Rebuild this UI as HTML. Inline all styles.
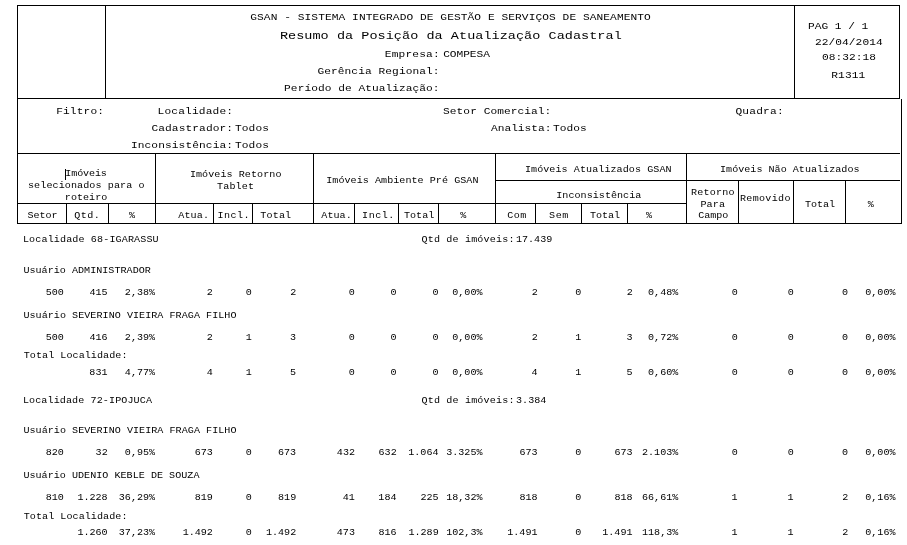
<!DOCTYPE html>
<html lang="pt-BR"><head><meta charset="utf-8"><title>Resumo da Posição da Atualização Cadastral</title>
<style>
html,body{margin:0;padding:0;background:#fff}
body{width:907px;height:545px;position:relative;overflow:hidden;font-family:"Liberation Mono","DejaVu Sans Mono",monospace;color:#000}
.t{position:absolute;white-space:pre;display:block;transform:scaleY(0.87);text-shadow:none}
.l{position:absolute;background:#000;display:block}
</style></head><body>
<div id="linhas">
<i class="l" style="left:17px;top:5px;width:883px;height:1px"></i>
<i class="l" style="left:17px;top:98px;width:883px;height:1px"></i>
<i class="l" style="left:17px;top:153px;width:883px;height:1px"></i>
<i class="l" style="left:495px;top:180px;width:405px;height:1px"></i>
<i class="l" style="left:17px;top:203px;width:670px;height:1px"></i>
<i class="l" style="left:17px;top:223px;width:885px;height:1px"></i>
<i class="l" style="left:17px;top:5px;width:1px;height:219px"></i>
<i class="l" style="left:899px;top:5px;width:1px;height:94px"></i>
<i class="l" style="left:901px;top:99px;width:1px;height:125px"></i>
<i class="l" style="left:105px;top:5px;width:1px;height:94px"></i>
<i class="l" style="left:794px;top:5px;width:1px;height:94px"></i>
<i class="l" style="left:155px;top:153px;width:1px;height:71px"></i>
<i class="l" style="left:313px;top:153px;width:1px;height:71px"></i>
<i class="l" style="left:495px;top:153px;width:1px;height:71px"></i>
<i class="l" style="left:686px;top:153px;width:1px;height:71px"></i>
<i class="l" style="left:66px;top:203px;width:1px;height:21px"></i>
<i class="l" style="left:108px;top:203px;width:1px;height:21px"></i>
<i class="l" style="left:213px;top:203px;width:1px;height:21px"></i>
<i class="l" style="left:252px;top:203px;width:1px;height:21px"></i>
<i class="l" style="left:354px;top:203px;width:1px;height:21px"></i>
<i class="l" style="left:398px;top:203px;width:1px;height:21px"></i>
<i class="l" style="left:438px;top:203px;width:1px;height:21px"></i>
<i class="l" style="left:535px;top:203px;width:1px;height:21px"></i>
<i class="l" style="left:581px;top:203px;width:1px;height:21px"></i>
<i class="l" style="left:627px;top:203px;width:1px;height:21px"></i>
<i class="l" style="left:738px;top:180px;width:1px;height:44px"></i>
<i class="l" style="left:793px;top:180px;width:1px;height:44px"></i>
<i class="l" style="left:845px;top:180px;width:1px;height:44px"></i>
<i class="l" style="left:65px;top:169px;width:1px;height:11px"></i>
</div>
<header id="cabecalho">
<span class="t" style="left:250.28px;top:10.00px;font-size:11.2px;line-height:14px;transform-origin:0 10.0px;letter-spacing:0.076px;">GSAN - SISTEMA INTEGRADO DE GESTÃO E SERVIÇOS DE SANEAMENTO</span>
<span class="t" style="left:279.93px;top:28.50px;font-size:13.5px;line-height:14px;transform-origin:0 10.5px;letter-spacing:0.038px;">Resumo da Posição da Atualização Cadastral</span>
<span class="t" style="left:384.86px;top:47.00px;font-size:11.2px;line-height:14px;transform-origin:0 10.0px;letter-spacing:0.156px;">Empresa:</span>
<span class="t" style="left:443.13px;top:47.00px;font-size:11.2px;line-height:14px;transform-origin:0 10.0px;letter-spacing:-0.029px;">COMPESA</span>
<span class="t" style="left:317.38px;top:64.00px;font-size:11.2px;line-height:14px;transform-origin:0 10.0px;letter-spacing:0.080px;">Gerência Regional:</span>
<span class="t" style="left:284.11px;top:81.00px;font-size:11.2px;line-height:14px;transform-origin:0 10.0px;letter-spacing:0.047px;">Período de Atualização:</span>
<span class="t" style="left:808.11px;top:19.00px;font-size:11.2px;line-height:14px;transform-origin:0 10.0px;letter-spacing:-0.033px;">PAG 1 / 1</span>
<span class="t" style="left:814.91px;top:35.00px;font-size:11.2px;line-height:14px;transform-origin:0 10.0px;letter-spacing:0.072px;">22/04/2014</span>
<span class="t" style="left:822.12px;top:50.00px;font-size:11.2px;line-height:14px;transform-origin:0 10.0px;letter-spacing:0.035px;">08:32:18</span>
<span class="t" style="left:831.21px;top:68.00px;font-size:11.2px;line-height:14px;transform-origin:0 10.0px;letter-spacing:0.130px;">R1311</span>
</header>
<section id="filtro">
<span class="t" style="left:56.14px;top:104.00px;font-size:11.2px;line-height:14px;transform-origin:0 10.0px;letter-spacing:0.156px;">Filtro:</span>
<span class="t" style="left:157.60px;top:104.00px;font-size:11.2px;line-height:14px;transform-origin:0 10.0px;letter-spacing:0.159px;">Localidade:</span>
<span class="t" style="left:151.38px;top:121.00px;font-size:11.2px;line-height:14px;transform-origin:0 10.0px;letter-spacing:0.099px;">Cadastrador:</span>
<span class="t" style="left:234.88px;top:121.00px;font-size:11.2px;line-height:14px;transform-origin:0 10.0px;letter-spacing:0.134px;">Todos</span>
<span class="t" style="left:130.90px;top:138.00px;font-size:11.2px;line-height:14px;transform-origin:0 10.0px;letter-spacing:0.101px;">Inconsistência:</span>
<span class="t" style="left:234.88px;top:138.00px;font-size:11.2px;line-height:14px;transform-origin:0 10.0px;letter-spacing:0.134px;">Todos</span>
<span class="t" style="left:443.07px;top:104.00px;font-size:11.2px;line-height:14px;transform-origin:0 10.0px;letter-spacing:0.055px;">Setor Comercial:</span>
<span class="t" style="left:491.10px;top:121.00px;font-size:11.2px;line-height:14px;transform-origin:0 10.0px;letter-spacing:-0.021px;">Analista:</span>
<span class="t" style="left:552.98px;top:121.00px;font-size:11.2px;line-height:14px;transform-origin:0 10.0px;letter-spacing:0.034px;">Todos</span>
<span class="t" style="left:735.44px;top:104.00px;font-size:11.2px;line-height:14px;transform-origin:0 10.0px;letter-spacing:0.206px;">Quadra:</span>
</section>
<section id="colunas">
<span class="t" style="left:65.31px;top:166.50px;font-size:10.08px;line-height:14px;transform-origin:0 9.5px;letter-spacing:-0.119px;">Imóveis</span>
<span class="t" style="left:27.98px;top:178.50px;font-size:10.08px;line-height:14px;transform-origin:0 9.5px;letter-spacing:0.091px;">selecionados para o</span>
<span class="t" style="left:64.81px;top:190.50px;font-size:10.08px;line-height:14px;transform-origin:0 9.5px;letter-spacing:0.033px;">roteiro</span>
<span class="t" style="left:189.91px;top:167.50px;font-size:10.08px;line-height:14px;transform-origin:0 9.5px;letter-spacing:0.058px;">Imóveis Retorno</span>
<span class="t" style="left:217.03px;top:179.50px;font-size:10.08px;line-height:14px;transform-origin:0 9.5px;letter-spacing:0.145px;">Tablet</span>
<span class="t" style="left:326.21px;top:173.50px;font-size:10.08px;line-height:14px;transform-origin:0 9.5px;letter-spacing:0.045px;">Imóveis Ambiente Pré GSAN</span>
<span class="t" style="left:524.91px;top:162.50px;font-size:10.08px;line-height:14px;transform-origin:0 9.5px;letter-spacing:0.066px;">Imóveis Atualizados GSAN</span>
<span class="t" style="left:556.31px;top:188.50px;font-size:10.08px;line-height:14px;transform-origin:0 9.5px;letter-spacing:0.027px;">Inconsistência</span>
<span class="t" style="left:720.01px;top:162.50px;font-size:10.08px;line-height:14px;transform-origin:0 9.5px;letter-spacing:0.018px;">Imóveis Não Atualizados</span>
<span class="t" style="left:691.10px;top:185.50px;font-size:10.08px;line-height:14px;transform-origin:0 9.5px;letter-spacing:0.201px;">Retorno</span>
<span class="t" style="left:700.40px;top:197.50px;font-size:10.08px;line-height:14px;transform-origin:0 9.5px;letter-spacing:0.147px;">Para</span>
<span class="t" style="left:698.34px;top:208.50px;font-size:10.08px;line-height:14px;transform-origin:0 9.5px;letter-spacing:-0.085px;">Campo</span>
<span class="t" style="left:740.00px;top:191.50px;font-size:10.08px;line-height:14px;transform-origin:0 9.5px;letter-spacing:0.294px;">Removido</span>
<span class="t" style="left:805.03px;top:197.50px;font-size:10.08px;line-height:14px;transform-origin:0 9.5px;letter-spacing:-0.029px;">Total</span>
<span class="t" style="left:867.77px;top:197.50px;font-size:10.08px;line-height:14px;transform-origin:0 9.5px;">%</span>
<span class="t" style="left:27.51px;top:208.50px;font-size:10.08px;line-height:14px;transform-origin:0 9.5px;letter-spacing:-0.063px;">Setor</span>
<span class="t" style="left:74.30px;top:208.50px;font-size:10.08px;line-height:14px;transform-origin:0 9.5px;letter-spacing:0.419px;">Qtd.</span>
<span class="t" style="left:129.07px;top:208.50px;font-size:10.08px;line-height:14px;transform-origin:0 9.5px;">%</span>
<span class="t" style="left:178.20px;top:208.50px;font-size:10.08px;line-height:14px;transform-origin:0 9.5px;letter-spacing:0.152px;">Atua.</span>
<span class="t" style="left:217.51px;top:208.50px;font-size:10.08px;line-height:14px;transform-origin:0 9.5px;letter-spacing:0.475px;">Incl.</span>
<span class="t" style="left:260.33px;top:208.50px;font-size:10.08px;line-height:14px;transform-origin:0 9.5px;letter-spacing:0.146px;">Total</span>
<span class="t" style="left:321.30px;top:208.50px;font-size:10.08px;line-height:14px;transform-origin:0 9.5px;letter-spacing:0.052px;">Atua.</span>
<span class="t" style="left:362.11px;top:208.50px;font-size:10.08px;line-height:14px;transform-origin:0 9.5px;letter-spacing:0.500px;">Incl.</span>
<span class="t" style="left:404.03px;top:208.50px;font-size:10.08px;line-height:14px;transform-origin:0 9.5px;letter-spacing:-0.004px;">Total</span>
<span class="t" style="left:460.17px;top:208.50px;font-size:10.08px;line-height:14px;transform-origin:0 9.5px;">%</span>
<span class="t" style="left:507.24px;top:208.50px;font-size:10.08px;line-height:14px;transform-origin:0 9.5px;letter-spacing:0.413px;">Com</span>
<span class="t" style="left:549.11px;top:208.50px;font-size:10.08px;line-height:14px;transform-origin:0 9.5px;letter-spacing:0.579px;">Sem</span>
<span class="t" style="left:590.03px;top:208.50px;font-size:10.08px;line-height:14px;transform-origin:0 9.5px;letter-spacing:-0.054px;">Total</span>
<span class="t" style="left:645.97px;top:208.50px;font-size:10.08px;line-height:14px;transform-origin:0 9.5px;">%</span>
</section>
<main id="dados">
<span class="t" style="left:22.93px;top:232.50px;font-size:10.08px;line-height:14px;transform-origin:0 9.5px;letter-spacing:0.128px;">Localidade 68-IGARASSU</span>
<span class="t" style="left:421.50px;top:232.50px;font-size:10.08px;line-height:14px;transform-origin:0 9.5px;letter-spacing:0.158px;">Qtd de imóveis:</span>
<span class="t" style="left:515.97px;top:232.50px;font-size:10.08px;line-height:14px;transform-origin:0 9.5px;">17.439</span>
<span class="t" style="left:23.40px;top:263.50px;font-size:10.08px;line-height:14px;transform-origin:0 9.5px;letter-spacing:0.021px;">Usuário ADMINISTRADOR</span>
<span class="t" style="left:45.77px;top:285.50px;font-size:10.08px;line-height:14px;transform-origin:0 9.5px;">500</span>
<span class="t" style="left:89.49px;top:285.50px;font-size:10.08px;line-height:14px;transform-origin:0 9.5px;">415</span>
<span class="t" style="left:124.85px;top:285.50px;font-size:10.08px;line-height:14px;transform-origin:0 9.5px;">2,38%</span>
<span class="t" style="left:206.86px;top:285.50px;font-size:10.08px;line-height:14px;transform-origin:0 9.5px;">2</span>
<span class="t" style="left:245.87px;top:285.50px;font-size:10.08px;line-height:14px;transform-origin:0 9.5px;">0</span>
<span class="t" style="left:290.16px;top:285.50px;font-size:10.08px;line-height:14px;transform-origin:0 9.5px;">2</span>
<span class="t" style="left:348.87px;top:285.50px;font-size:10.08px;line-height:14px;transform-origin:0 9.5px;">0</span>
<span class="t" style="left:390.57px;top:285.50px;font-size:10.08px;line-height:14px;transform-origin:0 9.5px;">0</span>
<span class="t" style="left:432.57px;top:285.50px;font-size:10.08px;line-height:14px;transform-origin:0 9.5px;">0</span>
<span class="t" style="left:452.25px;top:285.50px;font-size:10.08px;line-height:14px;transform-origin:0 9.5px;">0,00%</span>
<span class="t" style="left:531.66px;top:285.50px;font-size:10.08px;line-height:14px;transform-origin:0 9.5px;">2</span>
<span class="t" style="left:575.37px;top:285.50px;font-size:10.08px;line-height:14px;transform-origin:0 9.5px;">0</span>
<span class="t" style="left:626.66px;top:285.50px;font-size:10.08px;line-height:14px;transform-origin:0 9.5px;">2</span>
<span class="t" style="left:648.05px;top:285.50px;font-size:10.08px;line-height:14px;transform-origin:0 9.5px;">0,48%</span>
<span class="t" style="left:731.67px;top:285.50px;font-size:10.08px;line-height:14px;transform-origin:0 9.5px;">0</span>
<span class="t" style="left:787.67px;top:285.50px;font-size:10.08px;line-height:14px;transform-origin:0 9.5px;">0</span>
<span class="t" style="left:842.07px;top:285.50px;font-size:10.08px;line-height:14px;transform-origin:0 9.5px;">0</span>
<span class="t" style="left:865.25px;top:285.50px;font-size:10.08px;line-height:14px;transform-origin:0 9.5px;">0,00%</span>
<span class="t" style="left:23.40px;top:308.50px;font-size:10.08px;line-height:14px;transform-origin:0 9.5px;letter-spacing:0.041px;">Usuário SEVERINO VIEIRA FRAGA FILHO</span>
<span class="t" style="left:45.77px;top:330.50px;font-size:10.08px;line-height:14px;transform-origin:0 9.5px;">500</span>
<span class="t" style="left:89.51px;top:330.50px;font-size:10.08px;line-height:14px;transform-origin:0 9.5px;">416</span>
<span class="t" style="left:124.85px;top:330.50px;font-size:10.08px;line-height:14px;transform-origin:0 9.5px;">2,39%</span>
<span class="t" style="left:206.86px;top:330.50px;font-size:10.08px;line-height:14px;transform-origin:0 9.5px;">2</span>
<span class="t" style="left:245.74px;top:330.50px;font-size:10.08px;line-height:14px;transform-origin:0 9.5px;">1</span>
<span class="t" style="left:290.09px;top:330.50px;font-size:10.08px;line-height:14px;transform-origin:0 9.5px;">3</span>
<span class="t" style="left:348.87px;top:330.50px;font-size:10.08px;line-height:14px;transform-origin:0 9.5px;">0</span>
<span class="t" style="left:390.57px;top:330.50px;font-size:10.08px;line-height:14px;transform-origin:0 9.5px;">0</span>
<span class="t" style="left:432.57px;top:330.50px;font-size:10.08px;line-height:14px;transform-origin:0 9.5px;">0</span>
<span class="t" style="left:452.25px;top:330.50px;font-size:10.08px;line-height:14px;transform-origin:0 9.5px;">0,00%</span>
<span class="t" style="left:531.66px;top:330.50px;font-size:10.08px;line-height:14px;transform-origin:0 9.5px;">2</span>
<span class="t" style="left:575.24px;top:330.50px;font-size:10.08px;line-height:14px;transform-origin:0 9.5px;">1</span>
<span class="t" style="left:626.59px;top:330.50px;font-size:10.08px;line-height:14px;transform-origin:0 9.5px;">3</span>
<span class="t" style="left:648.05px;top:330.50px;font-size:10.08px;line-height:14px;transform-origin:0 9.5px;">0,72%</span>
<span class="t" style="left:731.67px;top:330.50px;font-size:10.08px;line-height:14px;transform-origin:0 9.5px;">0</span>
<span class="t" style="left:787.67px;top:330.50px;font-size:10.08px;line-height:14px;transform-origin:0 9.5px;">0</span>
<span class="t" style="left:842.07px;top:330.50px;font-size:10.08px;line-height:14px;transform-origin:0 9.5px;">0</span>
<span class="t" style="left:865.25px;top:330.50px;font-size:10.08px;line-height:14px;transform-origin:0 9.5px;">0,00%</span>
<span class="t" style="left:23.73px;top:348.50px;font-size:10.08px;line-height:14px;transform-origin:0 9.5px;letter-spacing:0.056px;">Total Localidade:</span>
<span class="t" style="left:89.34px;top:365.50px;font-size:10.08px;line-height:14px;transform-origin:0 9.5px;">831</span>
<span class="t" style="left:124.85px;top:365.50px;font-size:10.08px;line-height:14px;transform-origin:0 9.5px;">4,77%</span>
<span class="t" style="left:206.66px;top:365.50px;font-size:10.08px;line-height:14px;transform-origin:0 9.5px;">4</span>
<span class="t" style="left:245.74px;top:365.50px;font-size:10.08px;line-height:14px;transform-origin:0 9.5px;">1</span>
<span class="t" style="left:290.09px;top:365.50px;font-size:10.08px;line-height:14px;transform-origin:0 9.5px;">5</span>
<span class="t" style="left:348.87px;top:365.50px;font-size:10.08px;line-height:14px;transform-origin:0 9.5px;">0</span>
<span class="t" style="left:390.57px;top:365.50px;font-size:10.08px;line-height:14px;transform-origin:0 9.5px;">0</span>
<span class="t" style="left:432.57px;top:365.50px;font-size:10.08px;line-height:14px;transform-origin:0 9.5px;">0</span>
<span class="t" style="left:452.25px;top:365.50px;font-size:10.08px;line-height:14px;transform-origin:0 9.5px;">0,00%</span>
<span class="t" style="left:531.46px;top:365.50px;font-size:10.08px;line-height:14px;transform-origin:0 9.5px;">4</span>
<span class="t" style="left:575.24px;top:365.50px;font-size:10.08px;line-height:14px;transform-origin:0 9.5px;">1</span>
<span class="t" style="left:626.59px;top:365.50px;font-size:10.08px;line-height:14px;transform-origin:0 9.5px;">5</span>
<span class="t" style="left:648.05px;top:365.50px;font-size:10.08px;line-height:14px;transform-origin:0 9.5px;">0,60%</span>
<span class="t" style="left:731.67px;top:365.50px;font-size:10.08px;line-height:14px;transform-origin:0 9.5px;">0</span>
<span class="t" style="left:787.67px;top:365.50px;font-size:10.08px;line-height:14px;transform-origin:0 9.5px;">0</span>
<span class="t" style="left:842.07px;top:365.50px;font-size:10.08px;line-height:14px;transform-origin:0 9.5px;">0</span>
<span class="t" style="left:865.25px;top:365.50px;font-size:10.08px;line-height:14px;transform-origin:0 9.5px;">0,00%</span>
<span class="t" style="left:22.93px;top:393.50px;font-size:10.08px;line-height:14px;transform-origin:0 9.5px;letter-spacing:0.102px;">Localidade 72-IPOJUCA</span>
<span class="t" style="left:421.50px;top:393.50px;font-size:10.08px;line-height:14px;transform-origin:0 9.5px;letter-spacing:0.158px;">Qtd de imóveis:</span>
<span class="t" style="left:516.07px;top:393.50px;font-size:10.08px;line-height:14px;transform-origin:0 9.5px;">3.384</span>
<span class="t" style="left:23.40px;top:423.50px;font-size:10.08px;line-height:14px;transform-origin:0 9.5px;letter-spacing:0.041px;">Usuário SEVERINO VIEIRA FRAGA FILHO</span>
<span class="t" style="left:45.77px;top:445.50px;font-size:10.08px;line-height:14px;transform-origin:0 9.5px;">820</span>
<span class="t" style="left:95.62px;top:445.50px;font-size:10.08px;line-height:14px;transform-origin:0 9.5px;">32</span>
<span class="t" style="left:124.85px;top:445.50px;font-size:10.08px;line-height:14px;transform-origin:0 9.5px;">0,95%</span>
<span class="t" style="left:194.69px;top:445.50px;font-size:10.08px;line-height:14px;transform-origin:0 9.5px;">673</span>
<span class="t" style="left:245.87px;top:445.50px;font-size:10.08px;line-height:14px;transform-origin:0 9.5px;">0</span>
<span class="t" style="left:277.99px;top:445.50px;font-size:10.08px;line-height:14px;transform-origin:0 9.5px;">673</span>
<span class="t" style="left:336.87px;top:445.50px;font-size:10.08px;line-height:14px;transform-origin:0 9.5px;">432</span>
<span class="t" style="left:378.57px;top:445.50px;font-size:10.08px;line-height:14px;transform-origin:0 9.5px;">632</span>
<span class="t" style="left:408.27px;top:445.50px;font-size:10.08px;line-height:14px;transform-origin:0 9.5px;">1.064</span>
<span class="t" style="left:446.20px;top:445.50px;font-size:10.08px;line-height:14px;transform-origin:0 9.5px;">3.325%</span>
<span class="t" style="left:519.49px;top:445.50px;font-size:10.08px;line-height:14px;transform-origin:0 9.5px;">673</span>
<span class="t" style="left:575.37px;top:445.50px;font-size:10.08px;line-height:14px;transform-origin:0 9.5px;">0</span>
<span class="t" style="left:614.49px;top:445.50px;font-size:10.08px;line-height:14px;transform-origin:0 9.5px;">673</span>
<span class="t" style="left:642.00px;top:445.50px;font-size:10.08px;line-height:14px;transform-origin:0 9.5px;">2.103%</span>
<span class="t" style="left:731.67px;top:445.50px;font-size:10.08px;line-height:14px;transform-origin:0 9.5px;">0</span>
<span class="t" style="left:787.67px;top:445.50px;font-size:10.08px;line-height:14px;transform-origin:0 9.5px;">0</span>
<span class="t" style="left:842.07px;top:445.50px;font-size:10.08px;line-height:14px;transform-origin:0 9.5px;">0</span>
<span class="t" style="left:865.25px;top:445.50px;font-size:10.08px;line-height:14px;transform-origin:0 9.5px;">0,00%</span>
<span class="t" style="left:23.40px;top:468.50px;font-size:10.08px;line-height:14px;transform-origin:0 9.5px;letter-spacing:0.024px;">Usuário UDENIO KEBLE DE SOUZA</span>
<span class="t" style="left:45.77px;top:490.50px;font-size:10.08px;line-height:14px;transform-origin:0 9.5px;">810</span>
<span class="t" style="left:77.42px;top:490.50px;font-size:10.08px;line-height:14px;transform-origin:0 9.5px;">1.228</span>
<span class="t" style="left:118.80px;top:490.50px;font-size:10.08px;line-height:14px;transform-origin:0 9.5px;">36,29%</span>
<span class="t" style="left:194.75px;top:490.50px;font-size:10.08px;line-height:14px;transform-origin:0 9.5px;">819</span>
<span class="t" style="left:245.87px;top:490.50px;font-size:10.08px;line-height:14px;transform-origin:0 9.5px;">0</span>
<span class="t" style="left:278.05px;top:490.50px;font-size:10.08px;line-height:14px;transform-origin:0 9.5px;">819</span>
<span class="t" style="left:342.69px;top:490.50px;font-size:10.08px;line-height:14px;transform-origin:0 9.5px;">41</span>
<span class="t" style="left:378.36px;top:490.50px;font-size:10.08px;line-height:14px;transform-origin:0 9.5px;">184</span>
<span class="t" style="left:420.49px;top:490.50px;font-size:10.08px;line-height:14px;transform-origin:0 9.5px;">225</span>
<span class="t" style="left:446.20px;top:490.50px;font-size:10.08px;line-height:14px;transform-origin:0 9.5px;">18,32%</span>
<span class="t" style="left:519.52px;top:490.50px;font-size:10.08px;line-height:14px;transform-origin:0 9.5px;">818</span>
<span class="t" style="left:575.37px;top:490.50px;font-size:10.08px;line-height:14px;transform-origin:0 9.5px;">0</span>
<span class="t" style="left:614.52px;top:490.50px;font-size:10.08px;line-height:14px;transform-origin:0 9.5px;">818</span>
<span class="t" style="left:642.00px;top:490.50px;font-size:10.08px;line-height:14px;transform-origin:0 9.5px;">66,61%</span>
<span class="t" style="left:731.54px;top:490.50px;font-size:10.08px;line-height:14px;transform-origin:0 9.5px;">1</span>
<span class="t" style="left:787.54px;top:490.50px;font-size:10.08px;line-height:14px;transform-origin:0 9.5px;">1</span>
<span class="t" style="left:842.16px;top:490.50px;font-size:10.08px;line-height:14px;transform-origin:0 9.5px;">2</span>
<span class="t" style="left:865.25px;top:490.50px;font-size:10.08px;line-height:14px;transform-origin:0 9.5px;">0,16%</span>
<span class="t" style="left:23.73px;top:509.50px;font-size:10.08px;line-height:14px;transform-origin:0 9.5px;letter-spacing:0.056px;">Total Localidade:</span>
<span class="t" style="left:77.38px;top:525.50px;font-size:10.08px;line-height:14px;transform-origin:0 9.5px;">1.260</span>
<span class="t" style="left:118.80px;top:525.50px;font-size:10.08px;line-height:14px;transform-origin:0 9.5px;">37,23%</span>
<span class="t" style="left:182.67px;top:525.50px;font-size:10.08px;line-height:14px;transform-origin:0 9.5px;">1.492</span>
<span class="t" style="left:245.87px;top:525.50px;font-size:10.08px;line-height:14px;transform-origin:0 9.5px;">0</span>
<span class="t" style="left:265.97px;top:525.50px;font-size:10.08px;line-height:14px;transform-origin:0 9.5px;">1.492</span>
<span class="t" style="left:336.79px;top:525.50px;font-size:10.08px;line-height:14px;transform-origin:0 9.5px;">473</span>
<span class="t" style="left:378.51px;top:525.50px;font-size:10.08px;line-height:14px;transform-origin:0 9.5px;">816</span>
<span class="t" style="left:408.45px;top:525.50px;font-size:10.08px;line-height:14px;transform-origin:0 9.5px;">1.289</span>
<span class="t" style="left:446.20px;top:525.50px;font-size:10.08px;line-height:14px;transform-origin:0 9.5px;">102,3%</span>
<span class="t" style="left:507.24px;top:525.50px;font-size:10.08px;line-height:14px;transform-origin:0 9.5px;">1.491</span>
<span class="t" style="left:575.37px;top:525.50px;font-size:10.08px;line-height:14px;transform-origin:0 9.5px;">0</span>
<span class="t" style="left:602.24px;top:525.50px;font-size:10.08px;line-height:14px;transform-origin:0 9.5px;">1.491</span>
<span class="t" style="left:642.00px;top:525.50px;font-size:10.08px;line-height:14px;transform-origin:0 9.5px;">118,3%</span>
<span class="t" style="left:731.54px;top:525.50px;font-size:10.08px;line-height:14px;transform-origin:0 9.5px;">1</span>
<span class="t" style="left:787.54px;top:525.50px;font-size:10.08px;line-height:14px;transform-origin:0 9.5px;">1</span>
<span class="t" style="left:842.16px;top:525.50px;font-size:10.08px;line-height:14px;transform-origin:0 9.5px;">2</span>
<span class="t" style="left:865.25px;top:525.50px;font-size:10.08px;line-height:14px;transform-origin:0 9.5px;">0,16%</span>
</main>
</body></html>
